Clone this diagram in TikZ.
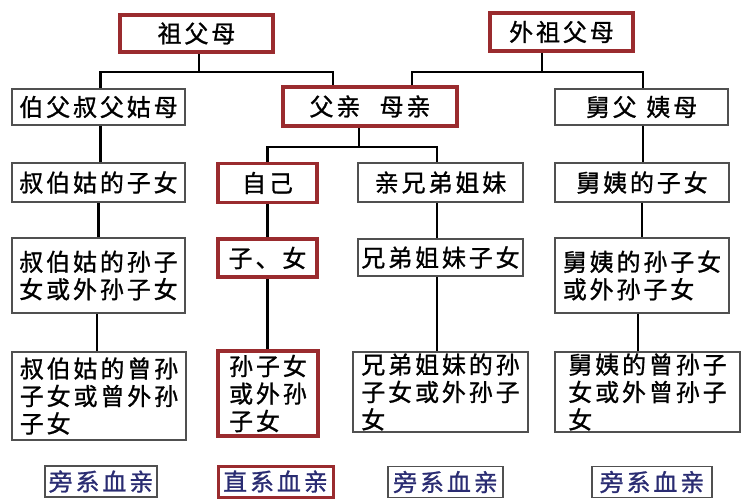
\documentclass[tikz,border=0pt]{standalone}
\usepackage{fontspec}
\setmainfont[LetterSpace=12,FakeBold=1]{Noto Sans CJK SC}
\definecolor{kinred}{HTML}{9A2B2E}
\definecolor{kingray}{HTML}{505050}
\definecolor{kinblue}{HTML}{2A2C72}
\tikzset{
  box/.style={draw=kingray,line width=1.7pt,inner sep=0pt,font=\fontsize{24}{27.5}\selectfont,align=left},
  redbox/.style={box,draw=kinred,line width=3.6pt},
  legend/.style={draw=kingray,line width=1.7pt,inner sep=0pt,font=\fontsize{24}{25}\selectfont,text=kinblue,minimum width=#1,minimum height=31pt},
  redlegend/.style={legend=#1,draw=kinred,line width=3pt},
  link/.style={line width=2.2pt,black}
}
\begin{document}
\begin{tikzpicture}[x=1pt,y=-1pt]
              \useasboundingbox[fill=white] (0,0) rectangle (750,500);
              % grandparents
              \node[redbox,minimum width=153pt,minimum height=37pt] (gp) at (196.5,33.5) {祖父母};
              \node[redbox,minimum width=143pt,minimum height=38pt] (wgp) at (561.5,32) {外祖父母};
              % first row
              \node[box,minimum width=173pt,minimum height=36pt] (uncle) at (98.5,107) {伯父叔父姑母};
              \node[redbox,minimum width=174pt,minimum height=39pt] (parents) at (370,106.5) {父亲\hspace{0.8em}母亲};
              \node[box,minimum width=173pt,minimum height=36pt] (muncle) at (641.5,107) {舅父\hspace{0.4em}姨母};
              % second row
              \node[box,minimum width=173pt,minimum height=39pt] (cousin) at (98.5,182.5) {叔伯姑的子女};
              \node[redbox,minimum width=99pt,minimum height=39pt] (self) at (267.5,183) {自己};
              \node[box,minimum width=165pt,minimum height=39pt] (sib) at (440.5,182.5) {亲兄弟姐妹};
              \node[box,minimum width=174pt,minimum height=39pt] (mcousin) at (642,182.5) {舅姨的子女};
              % third row
              \node[box,minimum width=173pt,minimum height=75pt] (uncgk) at (98.5,275.5) {叔伯姑的孙子\\女或外孙子女};
              \node[redbox,minimum width=99pt,minimum height=38pt] (kids) at (267.5,258) {子、女};
              \node[box,minimum width=165pt,minimum height=37pt] (sibkid) at (440.5,257.5) {兄弟姐妹子女};
              \node[box,minimum width=174pt,minimum height=75pt] (mgk) at (642,275.5) {舅姨的孙子女\\或外孙子女};
              % fourth row
              \node[box,minimum width=174pt,minimum height=88pt] (uncgg) at (99,396) {叔伯姑的曾孙\\子女或曾外孙\\子女};
              \node[redbox,minimum width=100pt,minimum height=85pt] (grand) at (268,393.5) {孙子女\\或外孙\\子女};
              \node[box,minimum width=175pt,minimum height=80pt] (sibgk) at (440.5,392) {兄弟姐妹的孙\\子女或外孙子\\女};
              \node[box,minimum width=185pt,minimum height=80pt] (mgg) at (647.5,392) {舅姨的曾孙子\\女或外曾孙子\\女};
              % legend
              \node[legend=112pt] (side1) at (101,481.5) {旁系血亲};
              \node[redlegend=115pt] (direct) at (275.5,481.5) {直系血亲};
              \node[legend=115pt] (side2) at (445.5,482) {旁系血亲};
              \node[legend=120pt] (side3) at (652,482) {旁系血亲};
              % junctions
              \coordinate (j1) at (199,72);
              \coordinate (j2) at (542,72);
              \coordinate (j3) at (359,147);
              \draw[link] ([xshift=2.5pt]gp.south) -- (j1);
              \draw[link] ([xshift=2pt]uncle.north) |- (j1) -| ([xshift=-37pt]parents.north);
              \draw[link] ([xshift=-19.5pt]wgp.south) -- (j2);
              \draw[link] ([xshift=42pt]parents.north) |- (j2) -| ([xshift=1.5pt]muncle.north);
              \draw[link] ([xshift=-11pt]parents.south) -- (j3);
              \draw[link] (self.north) |- (j3) -| ([xshift=-3.5pt]sib.north);
              % columns
              \draw[link] ([xshift=2pt]uncle.south) -- ([xshift=2pt]uncle.south |- cousin.north);
              \draw[link] ([xshift=0pt]cousin.south) -- (cousin.south |- uncgk.north);
              \draw[link] ([xshift=-1.5pt]uncgk.south) -- ([xshift=-1.5pt]uncgk.south |- uncgg.north);
              \draw[link] (self.south) -- (self.south |- kids.north);
              \draw[link] (kids.south) -- (kids.south |- grand.north);
              \draw[link] ([xshift=-3.5pt]sib.south) -- ([xshift=-3.5pt]sib.south |- sibkid.north);
              \draw[link] ([xshift=-3.5pt]sibkid.south) -- ([xshift=-3.5pt]sibkid.south |- sibgk.north);
              \draw[link] ([xshift=1.5pt]muncle.south) -- ([xshift=1.5pt]muncle.south |- mcousin.north);
              \draw[link] (mcousin.south) -- (mcousin.south |- mgk.north);
              \draw[link] ([xshift=-4pt]mgk.south) -- ([xshift=-4pt]mgk.south |- mgg.north);
          \end{tikzpicture}
\end{document}
